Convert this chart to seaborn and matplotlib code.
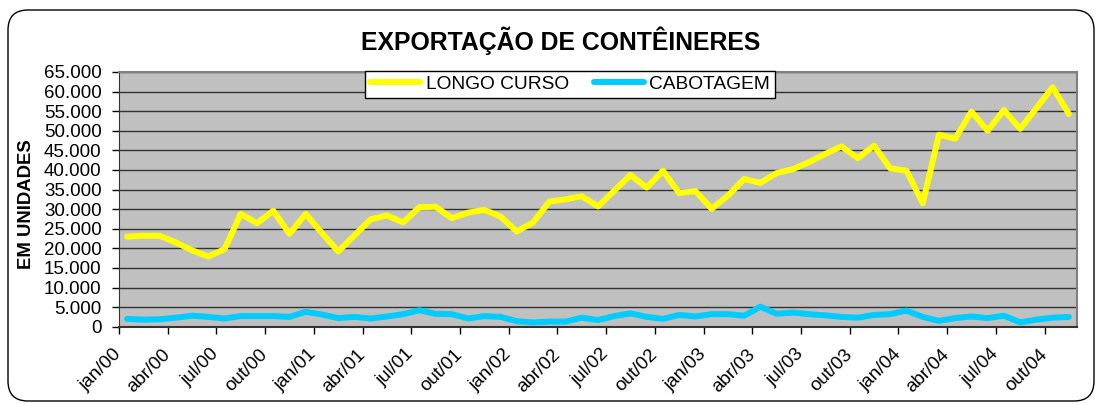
import matplotlib
matplotlib.use('Agg')
import matplotlib.pyplot as plt
import matplotlib.patches as patches
import matplotlib.ticker as mticker
import seaborn as sns
import pandas as pd
import numpy as np

# dados mensais jan/00 .. nov/04
longo_curso = [23000, 23200, 23200, 21500, 19500, 17900, 19800, 28800, 26400, 29600,
               23700, 28800, 23900, 19200, 23300, 27400, 28400, 26600, 30500, 30600,
               27700, 29100, 29800, 28100, 24300, 26600, 31900, 32500, 33300, 30700,
               34700, 38700, 35500, 39800, 34100, 34600, 30100, 33400, 37700, 36700,
               39200, 40200, 42000, 44100, 46000, 43000, 46200, 40400, 39800, 31500,
               49000, 48000, 54900, 50000, 55300, 50500, 55800, 61100, 54300]
cabotagem = [2000, 1800, 1900, 2300, 2800, 2500, 2100, 2700, 2700, 2700,
             2500, 3800, 3100, 2200, 2500, 2100, 2600, 3200, 4200, 3300,
             3200, 2100, 2700, 2500, 1400, 1100, 1300, 1300, 2300, 1700,
             2700, 3400, 2500, 2000, 3000, 2600, 3200, 3200, 2800, 5100,
             3300, 3600, 3200, 2900, 2500, 2300, 3000, 3200, 4100, 2500,
             1500, 2200, 2600, 2200, 2800, 1100, 1800, 2300, 2500]
tick_labels = ['jan/00', 'abr/00', 'jul/00', 'out/00', 'jan/01', 'abr/01', 'jul/01', 'out/01',
               'jan/02', 'abr/02', 'jul/02', 'out/02', 'jan/03', 'abr/03', 'jul/03', 'out/03',
               'jan/04', 'abr/04', 'jul/04', 'out/04']

df = pd.DataFrame({'mes': range(len(longo_curso)),
                   'LONGO CURSO': longo_curso,
                   'CABOTAGEM': cabotagem})
df_long = df.melt(id_vars='mes', var_name='serie', value_name='valor')

plt.rcParams['font.family'] = ['Liberation Sans', 'DejaVu Sans']

fig = plt.figure(figsize=(11.01, 4.04), dpi=100)
ax = fig.add_axes([119 / 1101, 1 - 326.7 / 404, 958 / 1101, 254.7 / 404])
ax.set_facecolor('#C0C0C0')

sns.lineplot(data=df_long, x='mes', y='valor', hue='serie', ax=ax,
             palette={'LONGO CURSO': '#FFFF00', 'CABOTAGEM': '#00CCFF'},
             linewidth=4.3, solid_joinstyle='round', solid_capstyle='round', zorder=3)

ax.set_xlim(-0.5, len(longo_curso) - 0.5)
ax.set_ylim(0, 65000)
ax.set_xticks(np.arange(-0.5, len(longo_curso) - 0.5, 3))
ax.set_xticklabels(tick_labels, rotation=45, ha='right', va='center', rotation_mode='anchor')
ax.set_yticks(np.arange(0, 65001, 5000))
ax.yaxis.set_major_formatter(mticker.FuncFormatter(lambda v, p: f'{int(v):,}'.replace(',', '.')))
ax.tick_params(axis='both', labelsize=13.5, colors='black', length=5, width=1)
ax.tick_params(axis='y', pad=7.5)
ax.tick_params(axis='x', pad=13)
ax.grid(axis='y', color='#333333', linewidth=1)
ax.set_axisbelow(True)

for s in ['top', 'right']:
    ax.spines[s].set_color('#808080')
    ax.spines[s].set_linewidth(1.5)
ax.spines['left'].set_color('#333333')
ax.spines['bottom'].set_color('#333333')
ax.spines['bottom'].set_linewidth(1.5)

ax.set_xlabel('')
ax.set_ylabel('EM UNIDADES', fontsize=13.3, fontweight='bold')
ax.yaxis.set_label_coords(-0.088, 0.482)

ax.set_title('EXPORTAÇÃO DE CONTÊINERES', fontsize=17.8, fontweight='bold', x=0.461, pad=16)

leg = ax.legend(loc='upper center', bbox_to_anchor=(0.471, 1.004), ncol=2, fontsize=13.8,
                frameon=True, fancybox=False, edgecolor='black', framealpha=1,
                borderaxespad=0, handlelength=2.6, handletextpad=0.3, columnspacing=1.3,
                borderpad=0.25)
leg.get_frame().set_linewidth(1)
for line in leg.get_lines():
    line.set_linewidth(4.3)

frame = patches.FancyBboxPatch((8, 3), 1086, 391, boxstyle='round,pad=0,rounding_size=20',
                               transform=None, facecolor='none', edgecolor='black',
                               linewidth=1, zorder=0)
fig.patches.append(frame)

fig.savefig('out.png', dpi=100, facecolor='white')
